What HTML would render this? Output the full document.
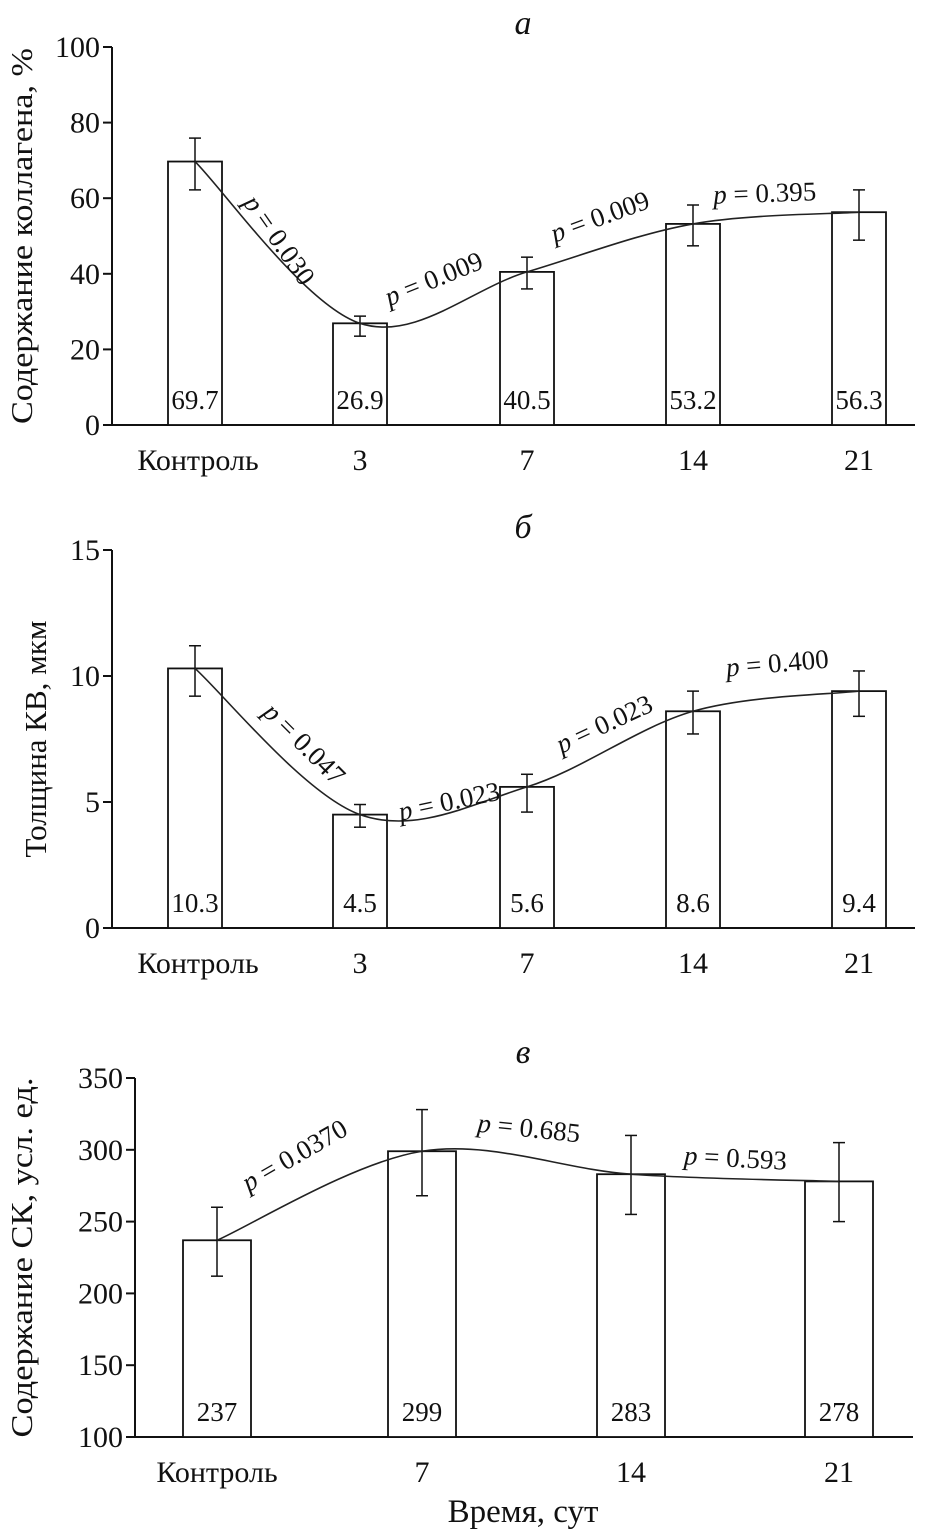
<!DOCTYPE html>
<html><head><meta charset="utf-8"><style>
html,body{margin:0;padding:0;background:#fff}
svg{display:block}
text{font-family:"Liberation Serif",serif;fill:#111}
</style></head><body>
<svg id="s" width="934" height="1532" viewBox="0 0 934 1532"></svg>
<script>
const catsA=["Контроль","3","7","14","21"];
const valsA=[69.7,26.9,40.5,53.2,56.3];
const errLoA=[62.2,23.5,36,47.4,48.9];
const errHiA=[75.9,28.8,44.4,58.2,62.2];
const ticksA=[0,20,40,60,80,100];
const pA=["p = 0.030","p = 0.009","p = 0.009","p = 0.395"];

const catsB=["Контроль","3","7","14","21"];
const valsB=[10.3,4.5,5.6,8.6,9.4];
const errLoB=[9.2,4.0,4.6,7.7,8.4];
const errHiB=[11.2,4.9,6.1,9.4,10.2];
const ticksB=[0,5,10,15];
const pB=["p = 0.047","p = 0.023","p = 0.023","p = 0.400"];

const catsC=["Контроль","7","14","21"];
const valsC=[237,299,283,278];
const errLoC=[212,268,255,250];
const errHiC=[260,328,310,305];
const ticksC=[100,150,200,250,300,350];
const pC=["p = 0.0370","p = 0.685","p = 0.593"];

const S=document.getElementById('s');
const NS="http://www.w3.org/2000/svg";
function el(t,a,txt){const e=document.createElementNS(NS,t);for(const k in a)e.setAttribute(k,a[k]);if(txt!==undefined)e.textContent=txt;S.appendChild(e);return e;}

function panel(cfg){
  const {x0,x1,y0,y1,vmin,vmax,cats,vals,lo,hi,ticks,centers,bw,pl,pPos,title,titleY,ylabel,ylx,ylLen,id}=cfg;
  const Y=v=>y0-(v-vmin)/(vmax-vmin)*(y0-y1);
  let e=el('line',{x1:x0,y1:y0,x2:x0,y2:y1,stroke:'#111','stroke-width':2});
  
  e=el('line',{x1:x0,y1:y0,x2:x1,y2:y0,stroke:'#111','stroke-width':2});
  
  ticks.forEach(t=>{
    el('line',{x1:x0-9,y1:Y(t),x2:x0,y2:Y(t),stroke:'#111','stroke-width':2});
    const tt=el('text',{x:x0-12,y:Y(t)+10,'font-size':30,'text-anchor':'end'},String(t));
    
  });
  cats.forEach((c,i)=>{
    const cx=centers[i];
    const b=el('rect',{x:cx-bw/2,y:Y(vals[i]),width:bw,height:y0-Y(vals[i]),fill:'#fff',stroke:'#111','stroke-width':1.8});
    
    const v=el('text',{x:cx,y:y0-16,'font-size':27,'text-anchor':'middle'},String(vals[i]));
    
    el('line',{x1:cx,y1:Y(lo[i]),x2:cx,y2:Y(hi[i]),stroke:'#111','stroke-width':1.5});
    el('line',{x1:cx-6,y1:Y(lo[i]),x2:cx+6,y2:Y(lo[i]),stroke:'#111','stroke-width':1.5});
    el('line',{x1:cx-6,y1:Y(hi[i]),x2:cx+6,y2:Y(hi[i]),stroke:'#111','stroke-width':1.5});
    const xl=el('text',{x:i==0?cx+(cfg.k0||0):cx,y:y0+45,'font-size':30,'text-anchor':'middle'},c);
    
  });
  const pts=vals.map((v,i)=>[centers[i],Y(v)]);
  let d='M'+pts[0][0]+','+pts[0][1];
  for(let i=0;i<pts.length-1;i++){
    const p0=pts[Math.max(0,i-1)],p1=pts[i],p2=pts[i+1],p3=pts[Math.min(pts.length-1,i+2)];
    const c1=[p1[0]+(p2[0]-p0[0])/6,p1[1]+(p2[1]-p0[1])/6];
    const c2=[p2[0]-(p3[0]-p1[0])/6,p2[1]-(p3[1]-p1[1])/6];
    d+=` C${c1[0]},${c1[1]} ${c2[0]},${c2[1]} ${p2[0]},${p2[1]}`;
  }
  const cv=el('path',{d:d,fill:'none',stroke:'#222','stroke-width':1.6});
  
  pl.forEach((p,i)=>{
    const [px,py,r]=pPos[i];
    const g=el('text',{x:px,y:py,'font-size':27,'text-anchor':'middle',transform:`rotate(${r} ${px} ${py})`});
    
    const a=document.createElementNS(NS,'tspan');a.setAttribute('font-style','italic');a.textContent='p';g.appendChild(a);
    g.appendChild(document.createTextNode(p.slice(1)));
  });
  const ti=el('text',{x:523,y:titleY,'font-size':34,'font-style':'italic','text-anchor':'middle'},title);
  
  const ya={x:ylx,y:(y0+y1)/2,'font-size':31,'text-anchor':'middle',transform:`rotate(-90 ${ylx} ${(y0+y1)/2})`};
  if(ylLen){ya.textLength=ylLen;ya.lengthAdjust='spacingAndGlyphs';}
  const yl=el('text',ya,ylabel);
  
}
panel({id:'a',x0:112,x1:915,y0:425,y1:47,vmin:0,vmax:100,cats:catsA,vals:valsA,lo:errLoA,hi:errHiA,ticks:ticksA,
  centers:[195,360,527,693,859],bw:54,k0:3,pl:pA,
  pPos:[[272,245,55],[437,287,-22],[603,225,-20],[765,202,-2]],
  title:'а',titleY:34,ylabel:'Содержание коллагена, %',ylx:32,ylLen:376});
panel({id:'b',x0:112,x1:915,y0:928,y1:550,vmin:0,vmax:15,cats:catsB,vals:valsB,lo:errLoB,hi:errHiB,ticks:ticksB,
  centers:[195,360,527,693,859],bw:54,k0:3,pl:pB,
  pPos:[[298,750,45],[451,810,-12],[608,732,-25],[778,672,-5]],
  title:'б',titleY:538,ylabel:'Толщина КВ, мкм',ylx:46,ylLen:0});
panel({id:'c',x0:135,x1:913,y0:1437,y1:1078,vmin:100,vmax:350,cats:catsC,vals:valsC,lo:errLoC,hi:errHiC,ticks:ticksC,
  centers:[217,422,631,839],bw:68,pl:pC,
  pPos:[[299,1163,-30],[528,1137,6],[735,1167,3]],
  title:'в',titleY:1063,ylabel:'Содержание СК, усл. ед.',ylx:32,ylLen:360});
const xt=el('text',{x:523,y:1522,'font-size':33,'text-anchor':'middle'},'Время, сут');


</script>
</body></html>
